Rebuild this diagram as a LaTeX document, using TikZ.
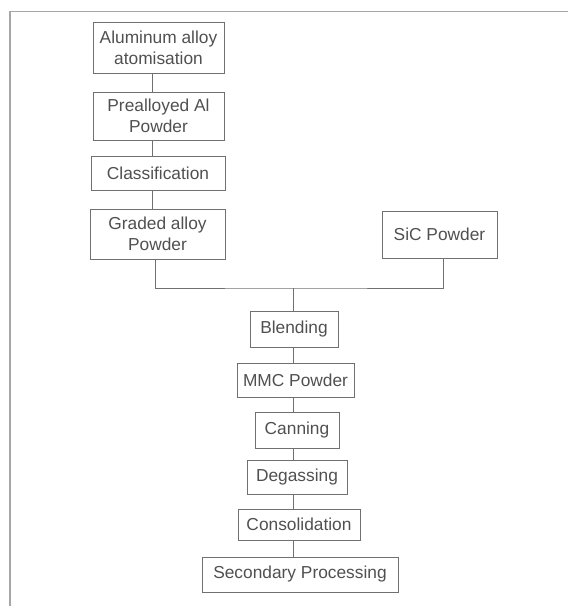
\documentclass[tikz,border=0pt]{standalone}
\usepackage{fontspec}
\setmainfont{Liberation Sans}
\usetikzlibrary{calc}
\definecolor{inkgray}{HTML}{505050}
\definecolor{rulegray}{HTML}{707070}
\tikzset{
  stage/.style={draw=rulegray,line width=0.7pt,text=inkgray,align=center,inner sep=0pt,
    font=\fontsize{13}{15.75}\selectfont},
  link/.style={draw=rulegray,line width=0.7pt},
  frame/.style={draw=gray!70,line width=0.9pt},
}
\newcommand{\stagebox}[6]{% name, x, y, width, height, text
  \node[stage,minimum width=#4*0.75pt,minimum height=#5*0.75pt] (#1) at (#2,#3) {#6};
}
\begin{document}
\begin{tikzpicture}[x=0.75pt,y=-0.75pt]
  \useasboundingbox (0,0) rectangle (568,606);
  % page frame (top and left edges)
  \draw[frame] (568,11.5) -- (10,11.5) -- (10,606);
  % alloy powder route
  \stagebox{alu}{158.5}{47.5}{131}{51}{Aluminum alloy\\atomisation}
  \stagebox{pre}{158.5}{116}{131}{48}{Prealloyed Al\\Powder}
  \stagebox{cls}{158}{173}{134}{34}{Classification}
  \stagebox{grd}{157.5}{234}{135}{50}{Graded alloy\\Powder}
  \stagebox{sic}{439.5}{234.5}{115}{47}{SiC Powder}
  % composite route
  \stagebox{bld}{294}{329}{88}{36}{Blending}
  \stagebox{mmc}{295.5}{380}{117}{34}{MMC Powder}
  \stagebox{can}{297}{430}{84}{36}{Canning}
  \stagebox{dgs}{297}{477}{100}{34}{Degassing}
  \stagebox{cns}{299}{524.5}{122}{31}{Consolidation}
  \stagebox{sec}{300}{574.5}{196}{35}{Secondary Processing}
  % connector columns
  \coordinate (lx) at (152,0);
  \coordinate (gx) at (155,0);
  \coordinate (sx) at (443,0);
  \coordinate (mx) at (293,0);
  \coordinate (jn) at (293,288);
  \draw[link] (alu.south -| lx) -- (pre.north -| lx);
  \draw[link] (pre.south -| lx) -- (cls.north -| lx);
  \draw[link] (cls.south -| lx) -- (grd.north -| lx);
  \draw[link] (grd.south -| gx) |- (jn) -| (sic.south -| sx);
  \draw[link] (jn) -- (bld.north -| mx);
  \foreach \a/\b in {bld/mmc,mmc/can,can/dgs,dgs/cns,cns/sec}
    \draw[link] (\a.south -| mx) -- (\b.north -| mx);
\end{tikzpicture}
\end{document}
